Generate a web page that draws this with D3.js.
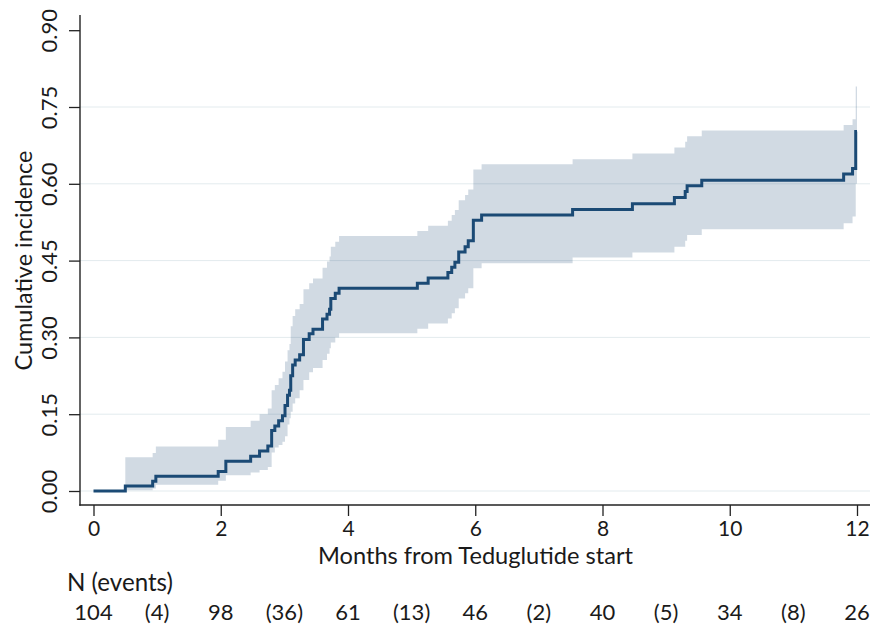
<!DOCTYPE html>
<html><head><meta charset="utf-8">
<script src="https://cdn.jsdelivr.net/npm/d3@7"></script>
<style>
body{margin:0;background:#fff}
text{font-family:Lato,"Open Sans",sans-serif;fill:#1a1a1a}
</style>
</head><body>
<svg id="c" width="875" height="628"></svg>
<script>
// ---- data ----
const months = [0, 0.50, 0.93, 0.98, 1.96, 2.08, 2.47, 2.61, 2.74, 2.80, 2.85, 2.91, 2.97, 3.01, 3.05, 3.08, 3.10, 3.13, 3.17, 3.24, 3.30, 3.39, 3.45, 3.60, 3.67, 3.71, 3.73, 3.80, 3.86, 5.09, 5.26, 5.57, 5.63, 5.68, 5.74, 5.84, 5.89, 5.97, 6.10, 7.53, 8.47, 9.13, 9.30, 9.33, 9.56, 11.79, 11.93, 11.98, 12];
const estimate = [0, 0.0096, 0.019, 0.029, 0.038, 0.058, 0.068, 0.078, 0.088, 0.118, 0.127, 0.137, 0.147, 0.167, 0.187, 0.197, 0.225, 0.246, 0.256, 0.266, 0.296, 0.307, 0.316, 0.336, 0.345, 0.355, 0.376, 0.386, 0.396, 0.406, 0.416, 0.427, 0.437, 0.447, 0.467, 0.477, 0.489, 0.529, 0.539, 0.550, 0.561, 0.573, 0.585, 0.596, 0.607, 0.619, 0.630, 0.702, 0.702];
const lower = [0, 0.0015, 0.005, 0.012, 0.020, 0.031, 0.036, 0.041, 0.047, 0.075, 0.085, 0.090, 0.096, 0.107, 0.130, 0.142, 0.155, 0.171, 0.181, 0.197, 0.217, 0.232, 0.240, 0.256, 0.268, 0.279, 0.290, 0.300, 0.308, 0.317, 0.327, 0.337, 0.347, 0.357, 0.376, 0.386, 0.396, 0.435, 0.445, 0.456, 0.466, 0.477, 0.489, 0.500, 0.511, 0.523, 0.536, 0.600, 0.600];
const upper = [0, 0.066, 0.074, 0.087, 0.100, 0.125, 0.137, 0.150, 0.161, 0.197, 0.207, 0.220, 0.233, 0.253, 0.275, 0.287, 0.322, 0.342, 0.355, 0.365, 0.394, 0.406, 0.415, 0.436, 0.448, 0.458, 0.477, 0.487, 0.498, 0.508, 0.518, 0.528, 0.539, 0.549, 0.568, 0.578, 0.589, 0.628, 0.638, 0.648, 0.659, 0.671, 0.682, 0.693, 0.704, 0.715, 0.726, 0.790, 0.790];
const yTicks = [0, 0.15, 0.30, 0.45, 0.60, 0.75, 0.90];
const xTicks = [0, 2, 4, 6, 8, 10, 12];
const atRisk = [104, 98, 61, 46, 40, 34, 26];      // at months 0,2,...,12
const events = [4, 36, 13, 2, 5, 8];               // between them
const xTitle = "Months from Teduglutide start";
const yTitle = "Cumulative incidence";
const tableTitle = "N (events)";

// ---- layout ----
const svg = d3.select("#c");
const x = d3.scaleLinear().domain([0, 12]).range([93.5, 857]);
const y = d3.scaleLinear().domain([0, 0.9]).range([491, 30.2]);
const axisX = 80, axisY = 505, axisTop = 15, plotRight = 870;
const data = months.map((m, i) => ({m, e: estimate[i], lo: lower[i], hi: upper[i]}));

// grid
svg.append("g").selectAll("line").data(yTicks.filter(v => v < 0.9)).join("line")
  .attr("x1", axisX).attr("x2", plotRight)
  .attr("y1", d => y(d)).attr("y2", d => y(d))
  .attr("stroke", "#e3ebee").attr("stroke-width", 1);

// CI band
svg.append("path").datum(data)
  .attr("d", d3.area().curve(d3.curveStepAfter)
    .x(d => x(d.m)).y0(d => y(d.lo)).y1(d => y(d.hi)))
  .attr("fill", "#1a4772").attr("fill-opacity", 0.2);

// step line
svg.append("path").datum(data)
  .attr("d", d3.line().curve(d3.curveStepAfter).x(d => x(d.m)).y(d => y(d.e)))
  .attr("fill", "none").attr("stroke", "#1b4a75").attr("stroke-width", 3)
  .attr("stroke-linejoin", "miter");

// axes
const gy = svg.append("g").attr("transform", `translate(${axisX},0)`)
  .call(d3.axisLeft(y).tickValues(yTicks).tickFormat(d3.format(".2f")).tickSize(11));
gy.select(".domain").remove();
gy.selectAll(".tick line").attr("stroke", "#222").attr("stroke-width", 1.3);
gy.selectAll(".tick text")
  .attr("transform", "rotate(-90)").attr("x", 0).attr("y", -23).attr("dy", 0)
  .attr("text-anchor", "middle").style("font-size", "22px")
  .style("font-family", "Lato").attr("fill", "#1a1a1a");

const gx = svg.append("g").attr("transform", `translate(0,${axisY})`)
  .call(d3.axisBottom(x).tickValues(xTicks).tickFormat(d3.format("d")).tickSize(11));
gx.select(".domain").remove();
gx.selectAll(".tick line").attr("stroke", "#222").attr("stroke-width", 1.3);
gx.selectAll(".tick text").attr("y", 31).attr("dy", 0)
  .style("font-size", "21px").style("font-family", "Lato").attr("fill", "#1a1a1a");

svg.append("line").attr("x1", axisX).attr("x2", axisX).attr("y1", axisTop).attr("y2", axisY + 0.7)
  .attr("stroke", "#222").attr("stroke-width", 1.4);
svg.append("line").attr("x1", axisX - 0.7).attr("x2", plotRight).attr("y1", axisY).attr("y2", axisY)
  .attr("stroke", "#222").attr("stroke-width", 1.4);

// titles, fitted to widths measured on the reference
function fit(sel, target) {
  const w = sel.node().getComputedTextLength();
  const s = parseFloat(sel.style("font-size"));
  sel.style("font-size", (s * target / w).toFixed(2) + "px");
}
const xt = svg.append("text").attr("x", 475.5).attr("y", 564).attr("text-anchor", "middle")
  .style("font-size", "22px").text(xTitle);
fit(xt, 315);
const yt = svg.append("text").attr("transform", "translate(32,260.5) rotate(-90)")
  .attr("text-anchor", "middle").style("font-size", "22px").text(yTitle);
fit(yt, 220);
const nt = svg.append("text").attr("x", 67).attr("y", 591).style("font-size", "22px").text(tableTitle);
fit(nt, 106);

// risk table
const riskRow = [];
atRisk.forEach((n, i) => {
  riskRow.push({m: i * 2, label: String(n)});
  if (i < events.length) riskRow.push({m: i * 2 + 1, label: "(" + events[i] + ")"});
});
svg.append("g").selectAll("text").data(riskRow).join("text")
  .attr("x", d => x(d.m)).attr("y", 620).attr("text-anchor", "middle")
  .style("font-size", "22px").text(d => d.label);
</script>
</body></html>
